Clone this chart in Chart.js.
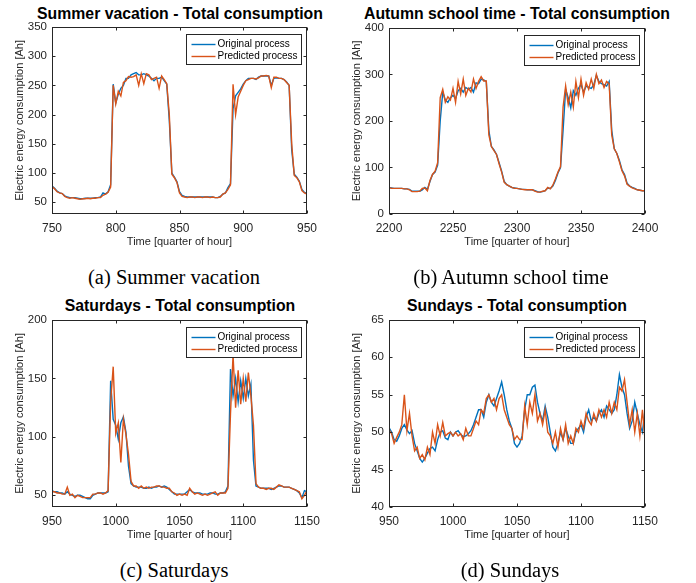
<!DOCTYPE html>
<html>
<head>
<meta charset="utf-8">
<script src="https://cdn.jsdelivr.net/npm/chart.js@4"></script>
<style>
  body { margin: 0; background: #fff; }
  #wrap { position: relative; width: 696px; height: 583px; overflow: hidden; }
  canvas { position: absolute; }
  .title { position: absolute; transform: translate(-50%, -50%); white-space: nowrap;
           font: bold 15.8px "Liberation Sans", Arial, sans-serif; color: #000; }
  .caption { position: absolute; transform: translate(-50%, -50%); white-space: nowrap;
             font: 20.5px "Liberation Serif", "Times New Roman", serif; color: #000; }
</style>
</head>
<body>
<div id="wrap">
  <div class="title" style="left:180px;top:14px">Summer vacation - Total consumption</div>
  <div class="title" style="left:517px;top:14px">Autumn school time - Total consumption</div>
  <div class="title" style="left:180px;top:306px">Saturdays - Total consumption</div>
  <div class="title" style="left:517px;top:306px">Sundays - Total consumption</div>
  <canvas id="summer"></canvas>
  <canvas id="autumn"></canvas>
  <canvas id="saturday"></canvas>
  <canvas id="sunday"></canvas>
  <div class="caption" style="left:174px;top:277px">(a) Summer vacation</div>
  <div class="caption" style="left:511px;top:277px">(b) Autumn school time</div>
  <div class="caption" style="left:174px;top:570px">(c) Saturdays</div>
  <div class="caption" style="left:510px;top:570px">(d) Sundays</div>
</div>
<script>
// sample index (quarter of hour), every 2nd sample
function range(a, b, step) {
  const out = [];
  for (let v = a; v <= b; v += step) out.push(v);
  return out;
}

const seriesLabels = ["Original process", "Predicted process"];

// (a) summer vacation
const summerTime = range(750, 950, 2);
const summerXTicks = [750, 800, 850, 900, 950];
const summerYTicks = [50, 100, 150, 200, 250, 300, 350];
const summerOrig = [
  78, 74, 69, 66, 65, 61, 59, 58, 58, 58,
  57, 56, 56, 57, 57, 57, 57, 58, 58, 59,
  66, 64, 68, 80, 252, 220, 235, 245, 250, 262,
  262, 268, 270, 272, 268, 268, 270, 268, 266, 262,
  258, 262, 262, 264, 258, 252, 190, 100, 93, 85,
  68, 62, 60, 59, 59, 59, 59, 59, 59, 59,
  59, 59, 59, 59, 58, 58, 60, 64, 66, 75,
  82, 210, 232, 238, 244, 252, 258, 262, 262, 262,
  260, 264, 266, 266, 266, 266, 250, 262, 263, 262,
  262, 260, 256, 250, 140, 98, 93, 86, 72, 67,
  65
];
const summerPred = [
  77, 73, 68, 66, 65, 60, 58, 57, 58, 57,
  56, 55, 56, 56, 57, 56, 57, 57, 58, 58,
  62, 64, 67, 76, 250, 218, 240, 232, 255, 258,
  265, 264, 265, 268, 250, 270, 253, 270, 268, 260,
  262, 264, 245, 266, 260, 253, 200, 98, 92, 84,
  66, 60, 59, 58, 59, 59, 58, 59, 59, 58,
  59, 59, 58, 59, 58, 58, 59, 64, 66, 72,
  80, 252, 200, 230, 240, 250, 258, 260, 262, 262,
  261, 263, 266, 266, 267, 266, 246, 264, 264, 262,
  262, 260, 255, 250, 150, 96, 92, 85, 70, 66,
  64
];

// (b) autumn school time
const autumnTime = range(2200, 2400, 2);
const autumnXTicks = [2200, 2250, 2300, 2350, 2400];
const autumnYTicks = [0, 100, 200, 300, 400];
const autumnOrig = [
  57, 56, 55, 55, 55, 55, 54, 54, 53, 49,
  49, 49, 49, 52, 57, 53, 70, 85, 90, 105,
  200, 262, 245, 240, 250, 255, 248, 265, 270, 262,
  272, 268, 272, 262, 282, 280, 290, 288, 285, 180,
  145, 138, 128, 110, 92, 70, 63, 60, 57, 56,
  55, 54, 53, 53, 52, 52, 52, 50, 48, 47,
  48, 50, 56, 55, 60, 72, 88, 100, 180, 268,
  250, 228, 265, 255, 270, 278, 262, 275, 272, 270,
  278, 298, 285, 280, 278, 275, 285, 180, 140, 130,
  115, 95, 85, 66, 60, 57, 55, 52, 51, 50,
  50
];
const autumnPred = [
  57, 55, 55, 55, 55, 55, 54, 54, 52, 48,
  48, 48, 49, 55, 56, 50, 72, 85, 92, 110,
  250, 268, 240, 252, 245, 270, 240, 285, 258, 290,
  255, 270, 262, 290, 270, 285, 295, 286, 286, 170,
  145, 136, 128, 108, 90, 68, 63, 60, 57, 55,
  55, 54, 53, 52, 52, 52, 52, 49, 47, 47,
  49, 50, 57, 54, 62, 75, 90, 102, 230, 275,
  235, 262, 230, 285, 250, 290, 255, 282, 268, 290,
  270, 300, 280, 288, 272, 285, 280, 170, 140, 130,
  112, 93, 82, 64, 60, 56, 54, 52, 51, 50,
  50
];

// (c) saturdays
const saturdayTime = range(950, 1150, 2);
const saturdayXTicks = [950, 1000, 1050, 1100, 1150];
const saturdayYTicks = [50, 100, 150, 200];
const saturdayOrig = [
  54, 53, 53, 52, 52, 51, 53, 51, 50, 49,
  50, 50, 49, 48, 47, 47, 50, 51, 52, 52,
  52, 52, 53, 148, 115, 110, 98, 112, 117, 104,
  75, 60, 58, 57, 57, 57, 56, 56, 57, 56,
  57, 57, 58, 57, 58, 57, 55, 53, 51, 51,
  51, 51, 51, 53, 55, 53, 52, 52, 52, 51,
  51, 51, 52, 52, 51, 51, 52, 52, 53, 58,
  158, 135, 150, 130, 148, 133, 150, 135, 145, 80,
  58, 57, 56, 56, 56, 56, 55, 56, 57, 58,
  58, 57, 57, 57, 56, 55, 54, 52, 48, 54,
  53
];
const saturdayPred = [
  53, 53, 52, 52, 51, 51, 57, 50, 51, 48,
  50, 49, 48, 48, 48, 48, 51, 51, 52, 52,
  51, 52, 54, 130, 160, 103, 112, 78, 115, 102,
  85, 62, 58, 58, 56, 58, 56, 57, 56, 57,
  57, 58, 58, 57, 57, 56, 56, 53, 52, 50,
  51, 50, 51, 50, 56, 53, 51, 52, 51, 50,
  51, 50, 51, 52, 53, 50, 52, 52, 52, 56,
  120, 170, 125, 157, 128, 150, 130, 155, 135, 110,
  60, 57, 56, 56, 55, 56, 56, 55, 57, 59,
  58, 57, 57, 57, 56, 55, 54, 53, 47, 50,
  54
];

// (d) sundays
const sundayTime = range(950, 1150, 2);
const sundayXTicks = [950, 1000, 1050, 1100, 1150];
const sundayYTicks = [40, 45, 50, 55, 60, 65];
const sundayOrig = [
  50.6, 50.0, 49.0, 48.8, 49.5, 50.5, 51.0, 50.3, 49.8, 50.2,
  48.5, 47.5, 46.5, 46.0, 46.5, 47.2, 47.8, 48.0, 47.5, 49.0,
  50.0, 50.2, 49.2, 49.0, 50.0, 49.5, 50.0, 50.2, 49.7, 49.4,
  49.5, 49.8, 50.2, 51.0, 52.0, 53.0, 53.0, 52.0, 54.0, 55.0,
  54.0, 53.5, 54.5, 55.5, 56.7, 55.0, 53.0, 51.5, 50.5, 48.5,
  48.0, 48.5, 49.5, 53.0, 55.0, 55.0, 56.0, 56.3, 54.0, 52.5,
  51.5, 53.5, 52.0, 50.0, 48.0, 47.5, 48.5, 50.0, 49.0, 50.5,
  49.5, 48.5, 48.5, 50.0, 50.5, 51.0, 50.0, 52.0, 53.0, 51.5,
  52.0, 51.5, 52.5, 53.0, 52.0, 53.5, 53.0, 52.5, 53.0, 55.0,
  57.7, 56.0, 55.0, 52.5, 50.5, 51.5, 54.0, 52.5, 51.0, 50.0,
  53.0
];
const sundayPred = [
  50.3, 49.8, 48.5, 49.3, 50.0, 51.0, 55.0, 50.2, 52.5, 49.5,
  47.5, 48.0, 46.5, 47.0, 46.3, 48.0, 47.0, 50.0, 48.5, 51.0,
  49.5, 51.3, 49.5, 49.8, 50.0, 49.5, 50.0, 49.5, 49.8, 49.0,
  50.5, 49.5, 49.5, 50.5, 51.5, 51.0, 53.0, 52.5, 54.5, 55.0,
  54.0, 54.5, 53.0, 54.5, 55.0, 53.0, 52.0, 51.0, 50.5, 49.0,
  49.5, 49.0, 49.0, 53.5, 51.0, 54.0, 52.5, 55.0, 51.5, 52.5,
  51.0, 53.0, 50.0, 49.5, 48.5, 50.0, 48.0, 50.5, 49.0, 51.0,
  48.5, 49.5, 48.5, 50.5, 50.0, 51.5, 50.5, 52.5, 51.5, 51.0,
  52.5, 51.5, 53.0, 52.0, 53.0, 52.0, 54.0, 52.5, 54.0, 53.0,
  56.0, 55.5, 57.0, 54.0, 51.0, 53.0, 50.0, 52.5, 49.5, 53.0,
  49.0
];

const blue = "#0072BD";
const orange = "#D95319";
const axisColor = "#262626";
const sans = "'Liberation Sans', Arial, sans-serif";

// MATLAB-like box, inward ticks and legend
const matlabBox = {
  id: "matlabBox",
  afterDraw(chart) {
    const { ctx, chartArea: a, scales } = chart;
    const l = Math.round(a.left) + 0.5, r = Math.round(a.right) - 0.5;
    const t = Math.round(a.top) + 0.5, b = Math.round(a.bottom) - 0.5;
    ctx.save();
    ctx.strokeStyle = axisColor;
    ctx.lineWidth = 1;
    ctx.strokeRect(l, t, r - l, b - t);
    ctx.beginPath();
    scales.x.ticks.forEach((tk) => {
      const px = Math.round(scales.x.getPixelForValue(tk.value)) + 0.5;
      ctx.moveTo(px, b); ctx.lineTo(px, b - 3);
      ctx.moveTo(px, t); ctx.lineTo(px, t + 3);
    });
    scales.y.ticks.forEach((tk) => {
      const py = Math.round(scales.y.getPixelForValue(tk.value)) + 0.5;
      ctx.moveTo(l, py); ctx.lineTo(l + 3, py);
      ctx.moveTo(r, py); ctx.lineTo(r - 3, py);
    });
    ctx.stroke();

    // legend, top right inside the axes
    const bw = 115, bh = 30;
    const bx = Math.round(a.right) - 6 - bw + 0.5, by = Math.round(a.top) + 7 + 0.5;
    ctx.fillStyle = "#fff";
    ctx.fillRect(bx, by, bw, bh);
    ctx.strokeStyle = "#262626";
    ctx.lineWidth = 1;
    ctx.strokeRect(bx, by, bw, bh);
    ctx.font = "10px " + sans;
    ctx.textBaseline = "middle";
    chart.data.datasets.forEach((ds, i) => {
      const y = by + 10 + i * 12;
      ctx.strokeStyle = ds.borderColor;
      ctx.lineWidth = 1.4;
      ctx.beginPath();
      ctx.moveTo(bx + 5, y); ctx.lineTo(bx + 29, y);
      ctx.stroke();
      ctx.fillStyle = "#000";
      ctx.fillText(ds.label, bx + 31, y);
    });
    ctx.restore();
  }
};

function makePanel(id, box, time, orig, pred, yMin, yMax, xTicks, yTicks) {
  const cx = box.L - 52, cy = box.T - 10;
  const w = box.R - cx + 40, h = box.B + 45 - cy;
  const canvas = document.getElementById(id);
  canvas.width = w;
  canvas.height = h;
  canvas.style.left = cx + "px";
  canvas.style.top = cy + "px";

  new Chart(canvas.getContext("2d"), {
    type: "line",
    data: {
      datasets: [
        {
          label: seriesLabels[0],
          data: time.map((t, i) => ({ x: t, y: orig[i] })),
          borderColor: blue,
          borderWidth: 1.4,
          pointRadius: 0,
          tension: 0,
          order: 1
        },
        {
          label: seriesLabels[1],
          data: time.map((t, i) => ({ x: t, y: pred[i] })),
          borderColor: orange,
          borderWidth: 1.4,
          pointRadius: 0,
          tension: 0,
          order: 0
        }
      ]
    },
    options: {
      responsive: false,
      animation: false,
      events: [],
      layout: { padding: { left: 0, top: 10, right: 40, bottom: 0 } },
      plugins: { legend: { display: false }, tooltip: { enabled: false } },
      scales: {
        x: {
          type: "linear",
          min: xTicks[0],
          max: xTicks[xTicks.length - 1],
          afterBuildTicks: (s) => { s.ticks = xTicks.map((v) => ({ value: v })); },
          afterFit: (s) => { s.height = 45; },
          grid: { display: false, drawTicks: false },
          border: { display: false },
          ticks: { padding: 7, color: axisColor, maxRotation: 0, autoSkip: false,
                   callback: (v) => String(v),
                   font: { family: sans, size: 12 } },
          title: { display: true, text: "Time [quarter of hour]", color: axisColor,
                   font: { family: sans, size: 11 }, padding: { top: 0, bottom: 10 } }
        },
        y: {
          type: "linear",
          min: yMin,
          max: yMax,
          afterBuildTicks: (s) => { s.ticks = yTicks.map((v) => ({ value: v })); },
          afterFit: (s) => { s.width = 52; },
          grid: { display: false, drawTicks: false },
          border: { display: false },
          ticks: { padding: 5, color: axisColor, autoSkip: false,
                   callback: (v) => String(v),
                   font: { family: sans, size: 11.5 } },
          title: { display: true, text: "Electric energy consumption [Ah]", color: axisColor,
                   font: { family: sans, size: 11 }, padding: { top: 13.5, bottom: 0 } }
        }
      }
    },
    plugins: [matlabBox]
  });
}

makePanel("summer", { L: 52, T: 25, R: 307, B: 214 }, summerTime, summerOrig, summerPred,
  30, 350, summerXTicks, summerYTicks);
makePanel("autumn", { L: 389, T: 26, R: 645, B: 214 }, autumnTime, autumnOrig, autumnPred,
  0, 400, autumnXTicks, autumnYTicks);
makePanel("saturday", { L: 52, T: 318, R: 307, B: 507 }, saturdayTime, saturdayOrig, saturdayPred,
  40, 200, saturdayXTicks, saturdayYTicks);
makePanel("sunday", { L: 389, T: 318, R: 645, B: 507 }, sundayTime, sundayOrig, sundayPred,
  40, 65, sundayXTicks, sundayYTicks);
</script>
</body>
</html>
